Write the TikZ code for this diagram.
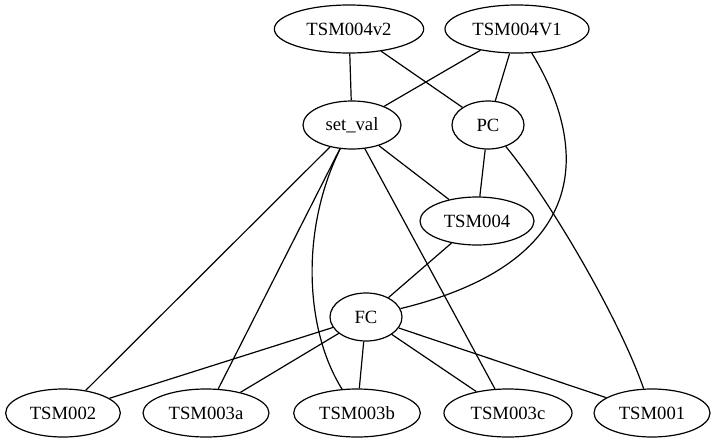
\documentclass[tikz,border=0pt]{standalone}
\usepackage{fontspec}
\newfontfamily\gvfont{Liberation Serif}
\usepackage{tikz}
\usetikzlibrary{shapes.geometric}

\begin{document}
\begin{tikzpicture}[x=0.75pt, y=-0.75pt,
  nd/.style={draw, ellipse, line width=0.9pt, font=\gvfont\fontsize{14}{16}\selectfont, minimum height=36pt, inner xsep=1pt, inner ysep=1pt, minimum width=#1},
  nd/.default=54pt,
  ed/.style={line width=0.9pt}]
  \useasboundingbox (0,0) rectangle (714,443);

  % 顶层
  \node[nd=112pt] (v2) at (349,29) {TSM004v2};
  \node[nd=108pt] (V1) at (517,29) {TSM004V1};
  % 第二层
  \node[nd=73.5pt] (setval) at (352,125) {set\_val};
  \node[nd] (PC) at (488,125) {PC};
  % 中间
  \node[nd=85.5pt] (T4) at (477,221) {TSM004};
  \node[nd] (FC) at (366,317) {FC};
  % 底层
  \node[nd=86pt] (T2) at (63,413) {TSM002};
  \node[nd=94.5pt] (T3a) at (206,413) {TSM003a};
  \node[nd=95pt] (T3b) at (357,413) {TSM003b};
  \node[nd=96pt] (T3c) at (508,413) {TSM003c};
  \node[nd=87pt] (T1) at (652,413) {TSM001};

  % 连线
  \draw[ed] (v2) -- (setval);
  \draw[ed] (v2) -- (PC);
  \draw[ed] (V1) -- (setval);
  \draw[ed] (V1) -- (PC);
  \draw[ed] (V1) .. controls (585,140) and (600,260) .. (FC);
  \draw[ed] (setval) -- (T4);
  \draw[ed] (setval) -- (T2);
  \draw[ed] (setval) -- (T3a);
  \draw[ed] (setval) .. controls (300,230) and (305,330) .. (T3b);
  \draw[ed] (setval) -- (T3c);
  \draw[ed] (PC) -- (T4);
  \draw[ed] (PC) .. controls (550,200) and (620,320) .. (T1);
  \draw[ed] (T4) -- (FC);
  \foreach \t in {T2,T3a,T3b,T3c,T1}
    \draw[ed] (FC) -- (\t);
\end{tikzpicture}
\end{document}
